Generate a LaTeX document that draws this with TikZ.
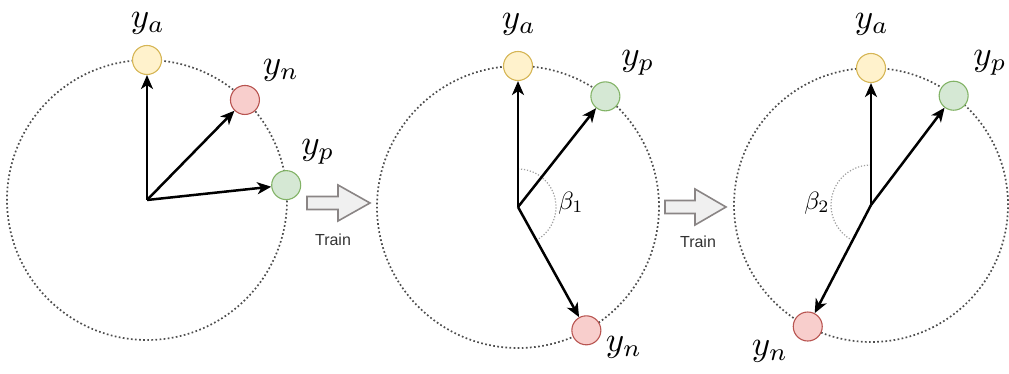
\documentclass[tikz,border=0pt]{standalone}
\usepackage{fontspec}
\newfontfamily\labelsans{Liberation Sans}
\usetikzlibrary{arrows.meta}

\definecolor{ancfill}{HTML}{FFF2CC}\definecolor{ancline}{HTML}{D6B656}
\definecolor{negfill}{HTML}{F8CECC}\definecolor{negline}{HTML}{B85450}
\definecolor{posfill}{HTML}{D5E8D4}\definecolor{posline}{HTML}{82B366}
\definecolor{ringgray}{HTML}{4D4D4D}
\definecolor{blockfill}{HTML}{F0F0F0}\definecolor{blockline}{HTML}{8A8585}

\tikzset{
  ring/.style={draw=ringgray, line width=1.7pt, dash pattern=on 1.7pt off 2.4pt},
  emb/.style={circle, minimum size=29pt, inner sep=0pt, line width=1.1pt},
  anchorpt/.style={emb, draw=ancline, fill=ancfill},
  negativept/.style={emb, draw=negline, fill=negfill},
  positivept/.style={emb, draw=posline, fill=posfill},
  vec/.style={line width=2.5pt, -{Stealth[length=14pt,width=12pt,inset=4pt]}},
  anglearc/.style={draw=gray!75, line width=1.2pt, dash pattern=on 1.2pt off 1.8pt},
  lbl/.style={scale=3.5, inner sep=0pt},
  anglelbl/.style={scale=2.5, inner sep=0pt},
  trainlbl/.style={font=\labelsans\fontsize{16}{19}\selectfont, text=black!80, inner sep=0pt},
  blockarrow/.style={draw=blockline, fill=blockfill, line width=1.6pt, line join=miter}
}

\begin{document}
\begin{tikzpicture}[x=1pt, y=1pt]
\useasboundingbox (0,0) rectangle (1009,374);

% ---------- first state ----------
\coordinate (c1) at (147,174);
\draw[ring] (c1) circle[radius=140];
\node[anchorpt] (a1) at ([shift={(90:140)}]c1) {};
\node[negativept] (n1) at ([shift={(45.6:140)}]c1) {};
\node[positivept] (p1) at ([shift={(6.1:140)}]c1) {};
\draw[vec] (c1) -- (a1);
\draw[vec] (c1) -- (n1);
\draw[vec] (c1) -- (p1);
\node[lbl] (la1) at (148,351) {$y_a$};
\node[lbl] (ln1) at (281,304) {$y_n$};
\node[lbl] (lp1) at (318,222) {$y_p$};

% ---------- first training step ----------
\draw[blockarrow] (307,164.5) -- (338,164.5) -- (338,153) -- (370,171)
  -- (338,189) -- (338,177.5) -- (307,177.5) -- cycle;
\node[trainlbl] (t1) at (333,134) {Train};

% ---------- second state ----------
\coordinate (c2) at (518,167);
\draw[ring] (c2) circle[radius=141];
\node[anchorpt] (a2) at ([shift={(90:141)}]c2) {};
\node[positivept] (p2) at ([shift={(51.7:141)}]c2) {};
\node[negativept] (n2) at ([shift={(-61:141)}]c2) {};
\draw[anglearc] ([shift={(90:38)}]c2) arc[start angle=90, end angle=-61, radius=38];
\draw[vec] (c2) -- (a2);
\draw[vec] (c2) -- (p2);
\draw[vec] (c2) -- (n2);
\node[lbl] (la2) at (519,350) {$y_a$};
\node[lbl] (lp2) at (638,311) {$y_p$};
\node[lbl] (ln2) at (624,27) {$y_n$};
\node[anglelbl] (b1) at (571,171) {$\beta_1$};

% ---------- second training step ----------
\draw[blockarrow] (665,160.5) -- (695,160.5) -- (695,149) -- (726,167)
  -- (695,185) -- (695,173.5) -- (665,173.5) -- cycle;
\node[trainlbl] (t2) at (698,132) {Train};

% ---------- third state ----------
\coordinate (c3) at (871,169);
\draw[ring] (c3) circle[radius=137];
\node[anchorpt] (a3) at ([shift={(90:137)}]c3) {};
\node[positivept] (p3) at ([shift={(52.9:137)}]c3) {};
\node[negativept] (n3) at ([shift={(242.5:137)}]c3) {};
\draw[anglearc] ([shift={(90:40)}]c3) arc[start angle=90, end angle=240, radius=40];
\draw[vec] (c3) -- (a3);
\draw[vec] (c3) -- (p3);
\draw[vec] (c3) -- (n3);
\node[lbl] (la3) at (872,350) {$y_a$};
\node[lbl] (lp3) at (990,311) {$y_p$};
\node[lbl] (ln3) at (770,23) {$y_n$};
\node[anglelbl] (b2) at (817,171) {$\beta_2$};
\end{tikzpicture}
\end{document}
